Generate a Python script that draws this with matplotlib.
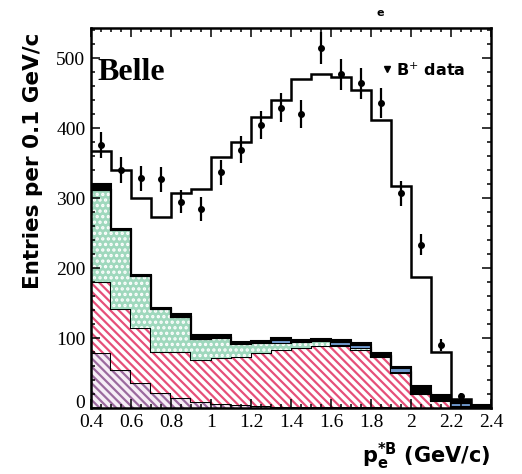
import numpy as np
import matplotlib
matplotlib.use("Agg")
import matplotlib.pyplot as plt

plt.rcParams['hatch.linewidth'] = 1.6
plt.rcParams['mathtext.fontset'] = 'dejavusans'

# bin edges of the electron momentum in the B rest frame (GeV/c)
p_edges = [0.4, 0.5, 0.6, 0.7, 0.8, 0.9, 1.0, 1.1, 1.2, 1.3, 1.4,
           1.5, 1.6, 1.7, 1.8, 1.9, 2.0, 2.1, 2.2, 2.3, 2.4]

# stacked contributions per 0.1 GeV/c bin, bottom to top
comp_purple = [79, 54, 36, 21, 14, 9, 6, 4, 3, 2, 2, 1, 1, 1, 1, 0, 0, 0, 0, 0]
comp_red = [101, 87, 79, 59, 66, 60, 65, 69, 75, 81, 84, 88, 88, 82, 72, 50, 20, 10, 2, 0]
comp_green = [131, 113, 74, 61, 50, 30, 29, 19, 15, 10, 8, 7, 1, 3, 1, 1, 1, 1, 1, 0]
comp_blue = [0, 0, 0, 0, 0, 0, 0, 0, 0, 4, 0, 0, 5, 4, 0, 6, 0, 0, 4, 0]
comp_black = [9, 2, 1, 2, 5, 5, 4, 3, 3, 3, 3, 3, 2, 3, 5, 2, 11, 8, 5, 4]

# total expectation (open histogram)
total_fit = [367, 340, 300, 273, 307, 313, 359, 380, 416, 440,
             470, 477, 473, 454, 411, 317, 187, 80, 13, 5]

# B+ data points
data_x = [0.45, 0.55, 0.65, 0.75, 0.85, 0.95, 1.05, 1.15, 1.25, 1.35,
          1.45, 1.55, 1.65, 1.75, 1.85, 1.95, 2.05, 2.15, 2.25]
data_y = [376, 340, 328, 327, 295, 284, 337, 369, 404, 429,
          420, 514, 477, 464, 436, 307, 233, 90, 17]
data_err = [19, 18, 18, 18, 17, 17, 18, 19, 20, 21,
            20, 23, 22, 22, 21, 18, 15, 9, 4]

x_ticks = [0.4, 0.6, 0.8, 1.0, 1.2, 1.4, 1.6, 1.8, 2.0, 2.2, 2.4]
x_ticklabels = ['0.4', '0.6', '0.8', '1', '1.2', '1.4', '1.6', '1.8', '2', '2.2', '2.4']
y_ticks = [0, 100, 200, 300, 400, 500]

fig = plt.figure(figsize=(5.22, 4.74), dpi=100)
ax = fig.add_axes([91 / 522, 66 / 474, 400 / 522, 380 / 474])

layers = [
    (comp_purple, '#f6eef6', '#9b6a9e', '\\\\\\\\'),
    (comp_red, 'white', '#e6507a', '\\\\\\\\'),
    (comp_green, '#9fd8bd', 'white', '...'),
    (comp_blue, '#6d96c9', '#6d96c9', None),
    (comp_black, 'black', 'black', None),
]

bottom = np.zeros(len(comp_red))
for vals, face, hcol, hatch in layers:
    top = bottom + np.array(vals)
    ax.stairs(top, p_edges, baseline=bottom, fill=True, facecolor=face,
              edgecolor=hcol, hatch=hatch, linewidth=0)
    ax.stairs(top, p_edges, baseline=None, color='black', lw=1.5)
    bottom = top

ax.stairs(total_fit, p_edges, baseline=None, color='black', lw=1.8)

ax.errorbar(data_x, data_y, yerr=data_err, fmt='o', color='black',
            ms=4, elinewidth=1.6, capsize=0)

ax.set_xlim(0.4, 2.4)
ax.set_ylim(0, 543)
ax.set_xticks(x_ticks)
ax.set_xticklabels(x_ticklabels)
ax.set_xticks(np.arange(0.4, 2.401, 0.05), minor=True)
ax.set_yticks(y_ticks)
ax.set_yticks(np.arange(0, 541, 20), minor=True)

ax.tick_params(which='both', direction='in', top=True, right=True, width=1.1)
ax.tick_params(which='major', length=6.5, labelsize=14, pad=4)
ax.tick_params(which='minor', length=3.2)
for lab in ax.get_xticklabels() + ax.get_yticklabels():
    lab.set_family('Liberation Serif')
# lift the "0" so it clears the first x label
ax.get_yticklabels()[0].set_va('baseline')
for sp in ax.spines.values():
    sp.set_linewidth(1.8)

ax.text(0.015, 0.884, 'Belle', transform=ax.transAxes, family='Liberation Serif',
        fontweight='bold', fontsize=23, va='center', ha='left')

ax.plot([0.74], [0.892], marker='v', color='black', ms=5, transform=ax.transAxes,
        clip_on=False)
ax.text(0.763, 0.888, r'B$^{+}$ data', transform=ax.transAxes, fontsize=11.5,
        fontweight='bold', va='center', ha='left')

ax.set_ylabel('Entries per 0.1 GeV/c', fontsize=15.5, fontweight='bold',
              va='center')
ax.yaxis.set_label_coords(-0.145, 0.65)
ax.set_xlabel(r'$\mathbf{p_e^{*B}}$ (GeV/c)', fontsize=15, fontweight='bold',
              ha='right', va='center')
ax.xaxis.set_label_coords(1.0, -0.128)

fig.text(380 / 522, 1 - 13 / 474, 'e', fontsize=8, fontweight='bold',
         ha='center', va='center')

fig.savefig('out.png', dpi=100)
